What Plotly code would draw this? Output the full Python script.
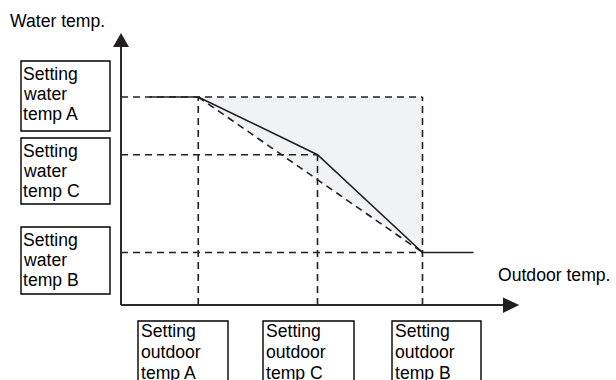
import plotly.graph_objects as go

# Setting points of the heating curve (schematic units)
outdoor_labels = ["Setting<br>outdoor<br>temp A", "Setting<br>outdoor<br>temp C", "Setting<br>outdoor<br>temp B"]
water_labels = ["Setting<br>water<br>temp A", "Setting<br>water<br>temp C", "Setting<br>water<br>temp B"]
outdoor_set = [5.15, 13.1, 20.1]      # outdoor temp A, C, B
water_set = [20.0, 14.45, 5.05]       # water temp A, C, B
curve_start = 1.9                     # outdoor temp where the flat top segment starts
curve_end = 23.5                      # outdoor temp where the flat bottom segment ends
axis_end_x = 26.55
axis_end_y = 26.15

W, H = 616, 380
X0_PX, Y0_PX = 121, 305      # pixel position of the axes origin
SX, SY = 15.0, 10.4          # pixels per unit

X_RANGE = [-X0_PX / SX, (W - X0_PX) / SX]
Y_RANGE = [(Y0_PX - H) / SY, Y0_PX / SY]

INK = "#231f20"
FONT = "Liberation Sans, Arial, sans-serif"
FS = 17.6


def dx(px):
    return (px - X0_PX) / SX


def dy(py):
    return (Y0_PX - py) / SY


oA, oC, oB = outdoor_set
wA, wC, wB = water_set

fig = go.Figure()

# shaded band between the straight line and the upper corner
fig.add_trace(go.Scatter(
    x=[oA, oB, oB, oA], y=[wA, wA, wB, wA], mode="lines", fill="toself",
    fillcolor="#f1f2f4", line=dict(width=0), hoverinfo="skip"))

dash = dict(color=INK, width=1.6, dash="7px,5px")
# horizontal guides
for wv, xe in [(wA, oB), (wC, oC), (wB, oB)]:
    fig.add_trace(go.Scatter(x=[0, xe], y=[wv, wv], mode="lines", line=dash, hoverinfo="skip"))
# vertical guides
for xv, ye in [(oA, wA), (oC, wC), (oB, wA)]:
    fig.add_trace(go.Scatter(x=[xv, xv], y=[0, ye], mode="lines", line=dash, hoverinfo="skip"))
# straight line A -> B
fig.add_trace(go.Scatter(x=[oA, oB], y=[wA, wB], mode="lines", line=dash, hoverinfo="skip"))

# heating curve through A, C, B
fig.add_trace(go.Scatter(
    x=[curve_start, oA, oC, oB, curve_end], y=[wA, wA, wC, wB, wB],
    mode="lines", line=dict(color=INK, width=1.6), hoverinfo="skip"))

shapes = []
AX = "#2b2b2b"
# axis lines
shapes.append(dict(type="line", xref="x", yref="y", x0=0, y0=0, x1=0, y1=dy(47),
                   line=dict(color=AX, width=2)))
shapes.append(dict(type="line", xref="x", yref="y", x0=0, y0=0, x1=dx(503), y1=0,
                   line=dict(color=AX, width=2)))
# arrowheads
shapes.append(dict(type="path", xref="x", yref="y",
                   path=f"M {dx(113)} {dy(47)} L {dx(129)} {dy(47)} L 0 {axis_end_y} Z",
                   fillcolor=INK, line=dict(width=0)))
shapes.append(dict(type="path", xref="x", yref="y",
                   path=f"M {dx(503)} {dy(297.5)} L {dx(503)} {dy(313)} L {axis_end_x} 0 Z",
                   fillcolor=INK, line=dict(width=0)))

annotations = []


def label(lines, x_px, base_px, step):
    for i, t in enumerate(lines):
        annotations.append(dict(
            x=x_px / W, y=1 - (base_px + i * step - 6.1) / H, xref="paper", yref="paper",
            text=t, showarrow=False, xanchor="left", yanchor="middle",
            font=dict(family=FONT, size=FS, color="#000000"), borderpad=0))


# water temp boxes on the left
left_boxes = [(61, 131), (138, 204), (227, 294)]
for (top, bot), txt in zip(left_boxes, water_labels):
    shapes.append(dict(type="rect", xref="paper", yref="paper",
                       x0=21 / W, x1=110 / W, y0=1 - bot / H, y1=1 - top / H,
                       line=dict(color="#000000", width=1.4)))
    label(txt.split("<br>"), 22, top + 19, 20)

# outdoor temp boxes at the bottom
bottom_boxes = [(138, 228), (263, 354), (392, 481)]
for (x0, x1), txt in zip(bottom_boxes, outdoor_labels):
    shapes.append(dict(type="rect", xref="paper", yref="paper",
                       x0=x0 / W, x1=x1 / W, y0=1 - 395 / H, y1=1 - 321 / H,
                       line=dict(color="#000000", width=1.4)))
    label(txt.split("<br>"), x0 + 1.5, 337, 21)

# axis titles
label(["Water temp."], 8.5, 27, 20)
label(["Outdoor temp."], 496.5, 281, 20)

fig.update_layout(
    width=W, height=H, margin=dict(l=0, r=0, t=0, b=0),
    paper_bgcolor="white", plot_bgcolor="white", showlegend=False,
    xaxis=dict(range=X_RANGE, visible=False, fixedrange=True),
    yaxis=dict(range=Y_RANGE, visible=False, fixedrange=True),
    shapes=shapes, annotations=annotations,
)

fig.write_html("out.html")
